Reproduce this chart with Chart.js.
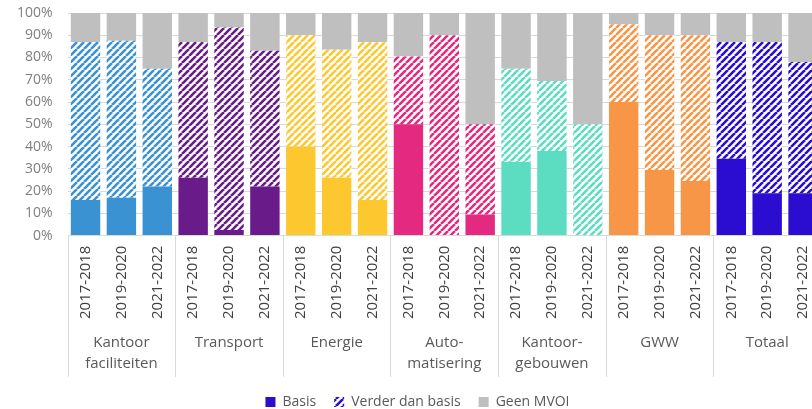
<!DOCTYPE html>
<html lang="nl">
<head>
	<meta charset="UTF-8">
	<title>MVOI per categorie</title>
	<script src="https://cdn.jsdelivr.net/npm/chart.js@4/dist/chart.umd.min.js"></script>
	<style>
		html,body{margin:0;padding:0;background:#fff;overflow:hidden;}
		#wrap{width:850px;height:409px;position:relative;}
	</style>
</head>
<body>
	<div id="wrap"><canvas id="chart"></canvas></div>

	<script>
		// periods per group, group names (multi-line where the original wraps)
		var periods = ["2017-2018", "2019-2020", "2021-2022"];
		var groups = [["Kantoor", "faciliteiten"], "Transport", "Energie", ["Auto-", "matisering"], ["Kantoor-", "gebouwen"], "GWW", "Totaal"];
		var groupColors = ["#3b92d3", "#6a1b8a", "#fdc82f", "#e42a80", "#5cdcc0", "#f79646", "#2a0dd1"];

		// percentages, 3 periods per group, in group order
		var basis  = [16, 17, 22,   26, 2.5, 22,   40, 26, 16,     50, 0, 9.5,    33, 38, 0,     60, 29.5, 24.5,  34.5, 19, 19];
		var verder = [71, 70.5, 53, 61, 91, 61,    50, 57.5, 71,   30.5, 90, 40.5, 42, 31.5, 50, 35, 60.5, 65.5,  52.5, 68, 59];
		var geen   = [13, 12.5, 25, 13, 6.5, 17,   10, 16.5, 13,   19.5, 10, 50,   25, 30.5, 50, 5, 10, 10,       13, 13, 22];

		var labels = [];
		groups.forEach(function(){
			periods.forEach(function(p){ labels.push(p); });
		});

		function hatch(color) {
			var s = 7;
			var c = document.createElement("canvas");
			c.width = s; c.height = s;
			var g = c.getContext("2d");
			g.fillStyle = "#ffffff";
			g.fillRect(0, 0, s, s);
			g.strokeStyle = color;
			g.lineWidth = 2.6;
			g.beginPath();
			[-s, 0, s].forEach(function(k){
				g.moveTo(k, s);
				g.lineTo(k + s, 0);
			});
			g.stroke();
			return g.createPattern(c, "repeat");
		}
		var patterns = groupColors.map(hatch);

		function groupOf(i) { return Math.floor(i / periods.length); }

		var groupLines = {
			id: "groupLines",
			afterDraw: function(chart) {
				var x = chart.scales.x, x2 = chart.scales.x2, ctx = chart.ctx;
				ctx.save();
				ctx.strokeStyle = "#d9d9d9";
				ctx.lineWidth = 1;
				ctx.beginPath();
				for (var g = 0; g <= groups.length; g++) {
					var px = Math.round(x.getPixelForValue(g * periods.length - 0.5)) + 0.5;
					ctx.moveTo(px, chart.chartArea.bottom);
					ctx.lineTo(px, x2.bottom);
				}
				ctx.stroke();
				ctx.restore();
			}
		};

		var font = "'Open Sans', sans-serif";

		new Chart(document.getElementById("chart"), {
			type: "bar",
			data: {
				labels: labels,
				datasets: [
					{
						label: "Basis",
						data: basis,
						backgroundColor: function(c){ return groupColors[groupOf(c.dataIndex)]; }
					},
					{
						label: "Verder dan basis",
						data: verder,
						backgroundColor: function(c){ return patterns[groupOf(c.dataIndex)]; }
					},
					{
						label: "Geen MVOI",
						data: geen,
						backgroundColor: "#bfbfbf"
					}
				]
			},
			options: {
				responsive: true,
				maintainAspectRatio: false,
				animation: false,
				datasets: { bar: { barPercentage: 0.82, categoryPercentage: 1 } },
				layout: { padding: { top: 13, left: 14, right: 29, bottom: -10 } },
				scales: {
					x: {
						stacked: true,
						offset: true,
						grid: { display: false, drawTicks: false },
						border: { display: false },
						ticks: {
							autoSkip: false,
							minRotation: 90,
							maxRotation: 90,
							padding: 10,
							color: "#404040",
							font: { family: font, size: 15 }
						}
					},
					x2: {
						type: "category",
						labels: groups,
						position: "bottom",
						offset: true,
						grid: { display: false, drawTicks: false },
						border: { display: false },
						ticks: {
							padding: 3,
							color: "#595959",
							font: { family: font, size: 15, lineHeight: 1.4 }
						}
					},
					y: {
						stacked: true,
						min: 0,
						max: 100,
						border: { display: false },
						grid: { color: "#d9d9d9", tickColor: "rgba(0,0,0,0)", tickLength: 12 },
						ticks: {
							autoSkip: false,
							stepSize: 10,
							padding: 3,
							color: "#7f7f7f",
							font: { family: font, size: 14 },
							callback: function(v){ return v + "%"; }
						}
					}
				},
				plugins: {
					tooltip: { enabled: false },
					legend: {
						position: "bottom",
						labels: {
							boxWidth: 10,
							boxHeight: 10,
							padding: 18,
							color: "#595959",
							font: { family: font, size: 14 },
							generateLabels: function(chart) {
								var last = groupColors.length - 1;
								var fills = [groupColors[last], patterns[last], "#bfbfbf"];
								return chart.data.datasets.map(function(d, i){
									return { text: d.label, fillStyle: fills[i], strokeStyle: "transparent", lineWidth: 0, datasetIndex: i, fontColor: "#595959" };
								});
							}
						}
					}
				}
			},
			plugins: [groupLines]
		});
	</script>
</body>
</html>
